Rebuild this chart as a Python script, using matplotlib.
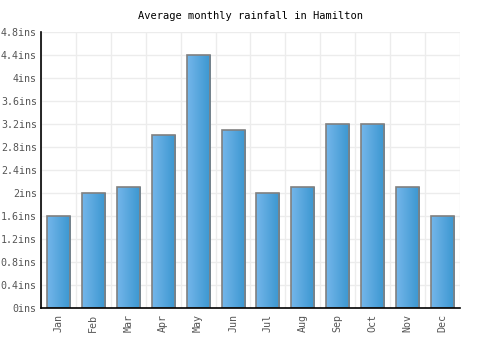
import matplotlib
matplotlib.use("Agg")
import matplotlib.pyplot as plt
import numpy as np
from matplotlib.patches import Rectangle

months = ["Jan", "Feb", "Mar", "Apr", "May", "Jun", "Jul", "Aug", "Sep", "Oct", "Nov", "Dec"]
rainfall = [1.6, 2.0, 2.1, 3.0, 4.4, 3.1, 2.0, 2.1, 3.2, 3.2, 2.1, 1.6]
yticks = [0, 0.4, 0.8, 1.2, 1.6, 2.0, 2.4, 2.8, 3.2, 3.6, 4.0, 4.4, 4.8]
ytick_labels = ["0ins", "0.4ins", "0.8ins", "1.2ins", "1.6ins", "2ins", "2.4ins", "2.8ins",
                "3.2ins", "3.6ins", "4ins", "4.4ins", "4.8ins"]

plt.rcParams['font.family'] = ['DejaVu Sans Mono']
fig = plt.figure(figsize=(5, 3.5), dpi=100)
ax = fig.add_axes([0.082, 0.12, 0.838, 0.789])

x = np.arange(len(months))
width = 0.66
bars = ax.bar(x, rainfall, width=width, color="none", edgecolor="#808080", linewidth=1.2, zorder=3)

cmap = matplotlib.colors.LinearSegmentedColormap.from_list("g", ["#74b6ea", "#3a96d0"])
grad = np.linspace(0, 1, 64).reshape(1, -1)
for b in bars:
    x0, y0 = b.get_x(), b.get_y()
    w, h = b.get_width(), b.get_height()
    im = ax.imshow(grad, cmap=cmap, extent=[x0, x0 + w, y0, y0 + h], aspect="auto", zorder=2)
    im.set_clip_path(Rectangle((x0, y0), w, h, transform=ax.transData))

ax.set_xlim(-0.5, len(months) - 0.5)
ax.set_ylim(0, 4.8)
ax.set_yticks(yticks)
ax.set_yticklabels(ytick_labels)
ax.set_xticks(x)
ax.set_xticklabels(months, rotation=90)
ax.set_xticks(np.arange(len(months) + 1) - 0.5, minor=True)
ax.grid(True, axis="y", which="major", color="#ececec", linewidth=1, zorder=0)
ax.grid(True, axis="x", which="minor", color="#ececec", linewidth=1, zorder=0)
ax.grid(False, axis="x", which="major")
ax.tick_params(axis="both", which="both", length=0, labelsize=7.2, labelcolor="#555555")
ax.tick_params(axis="y", pad=3)
ax.tick_params(axis="x", pad=4)
for s in ["top", "right"]:
    ax.spines[s].set_visible(False)
for s in ["left", "bottom"]:
    ax.spines[s].set_color("black")
    ax.spines[s].set_linewidth(1.2)
    ax.spines[s].set_zorder(4)
ax.set_axisbelow(True)
fig.suptitle("Average monthly rainfall in Hamilton", x=0.5, y=0.968, fontsize=7.5, color="black")
fig.savefig("out.png", dpi=100, facecolor="white")
